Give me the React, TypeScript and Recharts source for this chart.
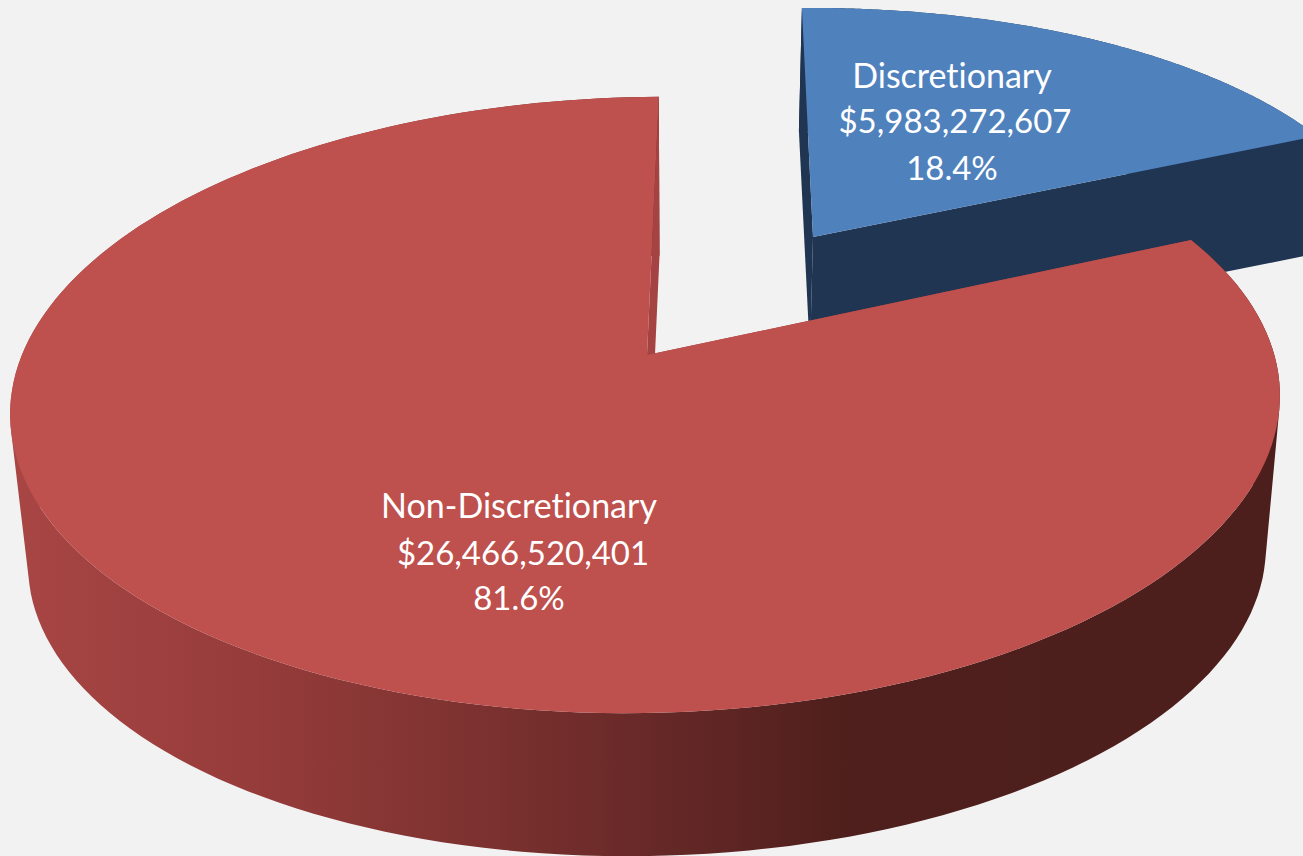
import React from 'react';
import { Pie, PieChart } from 'recharts';

const categories = ['Discretionary', 'Non-Discretionary'];
const amounts = [5983272607, 26466520401];
const data = categories.map((name, i) => ({ name, value: amounts[i] }));

const W = 1303;
const H = 856;
const FONT = 'Lato, "Open Sans", sans-serif';
const lineSizes = [34, 33, 33];

type Disc = { cx: number; cy: number; rx: number; ry: number; ax: number; ay: number; rot: number };
type Look = {
  top: Disc;
  bottom: Disc;
  turn: number;
  fill: string;
  inner: string;
  side: string;
  textX: number[];
  textY: number[];
};

// the slices are exploded and seen in perspective, so each one has its own top and bottom disc
const looks: Record<string, Look> = {
  Discretionary: {
    top: { cx: 813, cy: 260, rx: 579, ry: 252, ax: 813, ay: 237, rot: 0 },
    bottom: { cx: 804, cy: 383, rx: 578, ry: 252, ax: 810, ay: 355, rot: 0 },
    turn: 3.2,
    fill: '#4F81BD',
    inner: '#1F3552',
    side: '#1F3552',
    textX: [952, 955, 952],
    textY: [88, 133, 180],
  },
  'Non-Discretionary': {
    top: { cx: 645, cy: 405, rx: 635, ry: 308, ax: 647, ay: 355, rot: 1.1 },
    bottom: { cx: 647, cy: 556, rx: 619, ry: 300, ax: 648, ay: 507, rot: 1.1 },
    turn: 0.2,
    fill: '#BE504D',
    inner: '#A54343',
    side: 'url(#redSide)',
    textX: [519, 523, 519],
    textY: [518, 565, 610],
  },
};

const sideStops = [
  { at: 0, color: '#A84644' },
  { at: 0.19, color: '#963C3B' },
  { at: 0.35, color: '#7F3331' },
  { at: 0.5, color: '#682928' },
  { at: 0.66, color: '#4E1F1C' },
  { at: 1, color: '#4D1F1C' },
];

// projective map of the unit circle: the pie centre lands on the apex, straight edges stay straight
function project(d: Disc, deg: number) {
  const t = (deg * Math.PI) / 180;
  const r = (d.rot * Math.PI) / 180;
  const c = Math.cos(r);
  const s = Math.sin(r);
  const sx = d.ax - d.cx;
  const sy = d.ay - d.cy;
  const p = (sx * c - sy * s) / d.rx;
  const q = -(sx * s + sy * c) / d.ry;
  const k = Math.hypot(p, q) || 1e-9;
  const ex = p / k;
  const ey = q / k;
  const x = Math.cos(t);
  const y = Math.sin(t);
  const par = x * ex + y * ey;
  const perpX = x - par * ex;
  const perpY = y - par * ey;
  const den = 1 + k * par;
  const f = Math.sqrt(1 - k * k) / den;
  const par2 = (par + k) / den;
  const u = par2 * ex + perpX * f;
  const v = par2 * ey + perpY * f;
  const lx = d.rx * u;
  const ly = -d.ry * v;
  return [d.cx + lx * c + ly * s, d.cy - lx * s + ly * c];
}

function rim(d: Disc, from: number, to: number) {
  const out: number[][] = [];
  const n = 180;
  for (let i = 0; i <= n; i++) out.push(project(d, from + ((to - from) * i) / n));
  return out;
}

const toPath = (pts: number[][]) =>
  'M' + pts.map((p) => `${p[0].toFixed(1)},${p[1].toFixed(1)}`).join('L') + 'Z';

// every quad wound the same way, or overlapping ones cancel out under nonzero fill
function quad(a: number[], b: number[], c: number[], d: number[]) {
  const pts = [a, b, c, d];
  let area = 0;
  pts.forEach((p, i) => {
    const n = pts[(i + 1) % 4];
    area += p[0] * n[1] - n[0] * p[1];
  });
  return toPath(area < 0 ? pts.reverse() : pts);
}

function Slice(props: any) {
  const look = looks[props.name];
  if (!look) return null;
  const a0 = props.startAngle + look.turn;
  const a1 = props.endAngle + look.turn;
  const topRim = rim(look.top, a0, a1);
  const botRim = rim(look.bottom, a0, a1);
  const apex = [look.top.ax, look.top.ay];
  const botApex = [look.bottom.ax, look.bottom.ay];
  const last = topRim.length - 1;
  const sweep = topRim
    .slice(0, last)
    .map((pt, i) => quad(pt, topRim[i + 1], botRim[i + 1], botRim[i]))
    .join('');
  return (
    <g>
      <defs>
        <linearGradient id="redSide" gradientUnits="userSpaceOnUse" x1={10} y1={0} x2={1280} y2={0}>
          {sideStops.map((s) => (
            <stop key={s.at} offset={s.at} stopColor={s.color} />
          ))}
        </linearGradient>
      </defs>
      <path d={sweep} fill={look.side} />
      <path d={toPath([apex, topRim[0], botRim[0], botApex])} fill={look.inner} />
      <path d={toPath([apex, topRim[last], botRim[last], botApex])} fill={look.inner} />
      <path d={toPath([apex, ...topRim])} fill={look.fill} />
    </g>
  );
}

function SliceLabel(props: any) {
  const look = looks[props.name];
  if (!look) return null;
  const lines = [
    props.name,
    '$' + Number(props.value).toLocaleString('en-US'),
    (props.percent * 100).toFixed(1) + '%',
  ];
  return (
    <g>
      {lines.map((line, i) => (
        <text
          key={i}
          x={look.textX[i]}
          y={look.textY[i]}
          textAnchor="middle"
          fill="#FFFFFF"
          fontFamily={FONT}
          fontSize={lineSizes[i]}
          style={{ fontVariantLigatures: 'none' }}
        >
          {line}
        </text>
      ))}
    </g>
  );
}

export default function App() {
  return (
    <div style={{ position: 'absolute', left: 0, top: 0, width: W, height: H, background: '#F2F2F2', overflow: 'hidden' }}>
      <PieChart width={W} height={H} margin={{ top: 0, right: 0, bottom: 0, left: 0 }}>
        <Pie
          data={data}
          dataKey="value"
          nameKey="name"
          cx={645}
          cy={405}
          outerRadius={308}
          startAngle={88}
          endAngle={-272}
          paddingAngle={0}
          stroke="none"
          shape={Slice}
          label={SliceLabel}
          labelLine={false}
          isAnimationActive={false}
        />
      </PieChart>
    </div>
  );
}
